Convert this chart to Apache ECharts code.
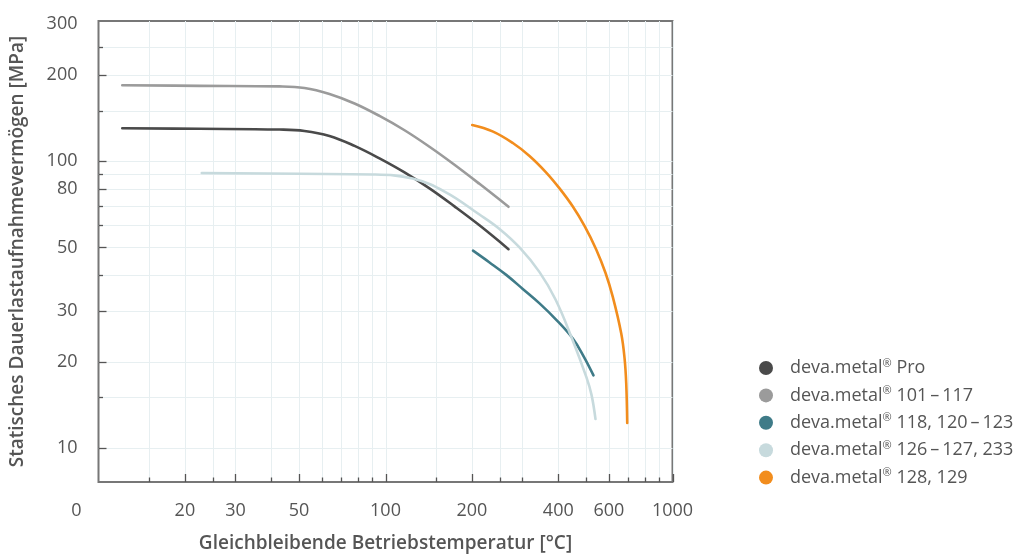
<!DOCTYPE html>
<html>
<head>
<meta charset="utf-8">
<script src="https://cdn.jsdelivr.net/npm/echarts@6/dist/echarts.min.js"></script>
<style>
  html, body { margin: 0; padding: 0; background: #fff; }
  #chart { width: 1027px; height: 558px; }
</style>
</head>
<body>
<div id="chart"></div>
<script>
// Achsen (beide logarithmisch)
const xMin = 10, xMax = 1000
const yMin = 7.6, yMax = 308

const xGridValues = [15, 20, 25, 30, 40, 50, 60, 70, 80, 90, 100, 150, 200, 250, 300, 400, 500, 600, 700, 800, 900]
const xLabelValues = [20, 30, 50, 100, 200, 400, 600, 1000]
const yGridValues = [10, 15, 20, 30, 40, 50, 60, 70, 80, 90, 100, 150, 200, 250]
const yLabelValues = [10, 20, 30, 50, 80, 100, 200, 300]

const seriesNames = [
  'deva.metal® Pro',
  'deva.metal® 101\u2009–\u2009117',
  'deva.metal® 118, 120\u2009–\u2009123',
  'deva.metal® 126\u2009–\u2009127, 233',
  'deva.metal® 128, 129'
]
const seriesColors = ['#4a4a4a', '#9b9b9b', '#3f7b88', '#c7dadd', '#f28d1d']

// Temperatur [°C] / Dauerlast [MPa]
const proTemp = [12.1, 22.5, 42.7, 52.2, 63.8, 78.0, 95.3, 116.5, 142.3, 173.9, 212.5, 268.3]
const proStress = [130.1, 129.6, 128.8, 127.4, 122.4, 113.0, 102.2, 91.3, 80.3, 69.5, 59.7, 49.3]

const s101Temp = [12.1, 22.5, 42.7, 52.2, 63.8, 78.0, 95.3, 116.5, 142.3, 173.9, 212.5, 268.3]
const s101Stress = [183.8, 183.0, 182.2, 179.9, 171.4, 158.8, 143.7, 128.1, 112.2, 97.1, 83.3, 69.3]

const s118Temp = [201.8, 230.4, 263.4, 300.1, 344.1, 394.4, 449.4, 489.6, 530.5]
const s118Stress = [48.7, 44.3, 40.1, 35.9, 31.9, 27.9, 24.05, 20.9, 17.9]

const s126Temp = [22.9, 50.2, 90.1, 124.2, 161.8, 212.5, 249.6, 293.0, 344.1, 391.2, 444.7, 501.5, 522.2, 539.1]
const s126Stress = [90.9, 90.3, 89.8, 86.9, 78.0, 65.1, 58.0, 50.0, 41.0, 32.9, 24.3, 17.6, 15.3, 12.6]

const s128Temp = [200.5, 236.0, 277.7, 317.5, 363.1, 404.0, 449.4, 493.6, 542.2, 584.4, 619.4, 662.6, 680.5, 689.8, 695.4]
const s128Stress = [133.6, 126.9, 115.6, 104.2, 91.2, 80.3, 69.4, 59.4, 49.2, 40.7, 33.6, 25.1, 20.6, 16.8, 12.2]

const lineData = [
  [proTemp, proStress],
  [s101Temp, s101Stress],
  [s118Temp, s118Stress],
  [s126Temp, s126Stress],
  [s128Temp, s128Stress]
]

const gridColor = '#e7eff1'
const tickColor = '#555'
const textColor = '#555'
const font = 'Open Sans'

function pairs(xs, ys) {
  return xs.map((x, i) => [x, ys[i]])
}

// Gitterlinien + Striche an der x-Achse
function renderXGrid(params, api) {
  const cs = params.coordSys
  const v = api.value(0)
  const x = Math.round(api.coord([v, yMin])[0]) + 0.5
  const len = xLabelValues.includes(v) ? 8 : 4.5
  const bottom = cs.y + cs.height
  return {
    type: 'group',
    children: [
      { type: 'line', shape: { x1: x, y1: cs.y, x2: x, y2: bottom }, style: { stroke: gridColor, lineWidth: 1 } },
      { type: 'line', shape: { x1: x, y1: bottom, x2: x, y2: bottom - len }, style: { stroke: tickColor, lineWidth: 1.3 } }
    ]
  }
}

// Gitterlinien + Striche an der y-Achse
function renderYGrid(params, api) {
  const cs = params.coordSys
  const v = api.value(1)
  const y = Math.round(api.coord([xMin, v])[1]) + 0.5
  const len = yLabelValues.includes(v) ? 8 : 4.5
  return {
    type: 'group',
    children: [
      { type: 'line', shape: { x1: cs.x, y1: y, x2: cs.x + cs.width, y2: y }, style: { stroke: gridColor, lineWidth: 1 } },
      { type: 'line', shape: { x1: cs.x, y1: y, x2: cs.x + len, y2: y }, style: { stroke: tickColor, lineWidth: 1.3 } }
    ]
  }
}

function renderXLabel(params, api) {
  const cs = params.coordSys
  const v = api.value(0)
  // "0" sitzt links neben dem Achsenanfang
  const x = params.dataIndex === 0 ? cs.x - 22 : api.coord([v, yMin])[0]
  const text = params.dataIndex === 0 ? '0' : String(v)
  return {
    type: 'text',
    style: {
      x: x, y: cs.y + cs.height + 29, text: text,
      fill: textColor, fontSize: 18, fontFamily: font,
      align: 'center', verticalAlign: 'middle'
    }
  }
}

function renderYLabel(params, api) {
  const cs = params.coordSys
  const v = api.value(1)
  return {
    type: 'text',
    style: {
      x: cs.x - 21, y: api.coord([xMin, v])[1], text: String(v),
      fill: textColor, fontSize: 18, fontFamily: font,
      align: 'right', verticalAlign: 'middle'
    }
  }
}

const series = [
  {
    type: 'custom', renderItem: renderXGrid, silent: true, z: 1,
    data: xGridValues.concat([xMax]).map(v => [v, yMin])
  },
  {
    type: 'custom', renderItem: renderYGrid, silent: true, z: 1,
    data: yGridValues.map(v => [xMin, v])
  },
  {
    type: 'custom', renderItem: renderXLabel, silent: true, z: 3, clip: false,
    data: [[xMin, yMin]].concat(xLabelValues.map(v => [v, yMin]))
  },
  {
    type: 'custom', renderItem: renderYLabel, silent: true, z: 3, clip: false,
    data: yLabelValues.map(v => [xMin, v])
  }
]

seriesNames.forEach((name, i) => {
  series.push({
    name: name,
    type: 'line',
    smooth: 0.4,
    showSymbol: false,
    symbol: 'none',
    z: 5,
    lineStyle: { width: 2.6, color: seriesColors[i], cap: 'round' },
    itemStyle: { color: seriesColors[i] },
    data: pairs(lineData[i][0], lineData[i][1])
  })
})

const option = {
  animation: false,
  textStyle: { fontFamily: font },
  grid: {
    left: 98.5,
    top: 21,
    right: 354.5,
    bottom: 76,
    show: true,
    borderColor: '#777',
    borderWidth: 2
  },
  legend: {
    data: seriesNames,
    orient: 'vertical',
    left: 759,
    top: 358,
    padding: 0,
    icon: 'circle',
    itemWidth: 14,
    itemHeight: 14,
    itemGap: 8.4,
    formatter: function (name) {
      return '{gap|}' + name.replace('®', '{sup|®}')
    },
    textStyle: {
      color: textColor,
      fontSize: 18,
      fontFamily: font,
      rich: {
        gap: { width: 12 },
        sup: { fontSize: 11, color: textColor, padding: [0, 0, 9, 0] }
      }
    }
  },
  xAxis: {
    type: 'log',
    logBase: 10,
    min: xMin,
    max: xMax,
    name: 'Gleichbleibende Betriebstemperatur [°C]',
    nameLocation: 'middle',
    nameGap: 52,
    nameTextStyle: { color: textColor, fontSize: 19, fontWeight: 600, fontFamily: font },
    axisLine: { show: false },
    axisTick: { show: false },
    axisLabel: { show: false },
    splitLine: { show: false }
  },
  yAxis: {
    type: 'log',
    logBase: 10,
    min: yMin,
    max: yMax,
    name: 'Statisches Dauerlastaufnahmevermögen [MPa]',
    nameLocation: 'middle',
    nameGap: 71,
    nameRotate: 90,
    nameTextStyle: { color: textColor, fontSize: 19, fontWeight: 600, fontFamily: font },
    axisLine: { show: false },
    axisTick: { show: false },
    axisLabel: { show: false },
    splitLine: { show: false }
  },
  series: series
}

const myChart = echarts.init(document.getElementById('chart'))
myChart.setOption(option)
</script>
</body>
</html>
